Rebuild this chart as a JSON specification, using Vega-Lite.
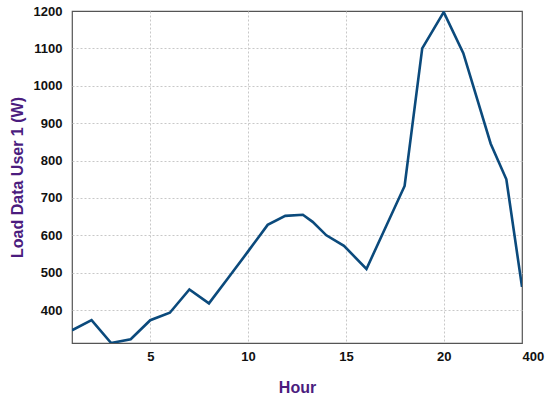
{
  "$schema": "https://vega.github.io/schema/vega-lite/v6.json",
  "width": 450,
  "height": 332,
  "autosize": {"type": "none"},
  "padding": {"left": 72, "top": 11, "right": 28, "bottom": 57},
  "background": "white",
  "config": {
    "font": "Liberation Sans",
    "view": {"stroke": "#555555", "strokeWidth": 1.2}
  },
  "data": {
    "values": [
      {"hour": 1, "load": 346},
      {"hour": 2, "load": 373},
      {"hour": 3, "load": 312},
      {"hour": 4, "load": 322},
      {"hour": 5, "load": 373},
      {"hour": 6, "load": 393},
      {"hour": 7, "load": 455},
      {"hour": 8, "load": 418},
      {"hour": 9, "load": 487},
      {"hour": 10, "load": 557},
      {"hour": 11, "load": 628},
      {"hour": 11.9, "load": 652},
      {"hour": 12.8, "load": 655},
      {"hour": 13.3, "load": 636},
      {"hour": 14, "load": 600},
      {"hour": 14.9, "load": 572},
      {"hour": 16.05, "load": 510},
      {"hour": 18, "load": 732},
      {"hour": 18.9, "load": 1100},
      {"hour": 20, "load": 1197},
      {"hour": 21, "load": 1087},
      {"hour": 22.4, "load": 845},
      {"hour": 23.2, "load": 750},
      {"hour": 24, "load": 462}
    ]
  },
  "mark": {"type": "line", "color": "#0B4A7C", "strokeWidth": 2.6, "clip": true},
  "encoding": {
    "x": {
      "field": "hour",
      "type": "quantitative",
      "scale": {"domain": [1, 24], "nice": false, "zero": false},
      "axis": {
        "title": "Hour",
        "values": [5, 10, 15, 20, 24],
        "labelExpr": "datum.value == 24 ? '400' : datum.label",
        "labelAlign": {"condition": {"test": "datum.value == 24", "value": "left"}, "value": "center"},
        "labelDy": {"condition": {"test": "datum.value == 24", "value": 3}, "value": 0},
        "labelBaseline": "top",
        "labelPadding": 7,
        "labelFontSize": 13,
        "labelFontWeight": "bold",
        "labelColor": "#111111",
        "labelFlush": false,
        "ticks": false,
        "domain": false,
        "grid": true,
        "gridColor": "#c8c8c8",
        "gridOpacity": {"condition": {"test": "datum.value == 24", "value": 0}, "value": 1},
        "gridDash": [2, 2],
        "gridWidth": 1,
        "titleFontSize": 16,
        "titleFontWeight": "bold",
        "titleColor": "#4B1C7E",
        "titlePadding": 16
      }
    },
    "y": {
      "field": "load",
      "type": "quantitative",
      "scale": {"domain": [312, 1200], "nice": false, "zero": false},
      "axis": {
        "title": "Load Data User 1 (W)",
        "values": [400, 500, 600, 700, 800, 900, 1000, 1100, 1200],
        "format": "d",
        "labelPadding": 10,
        "labelFontSize": 13,
        "labelFontWeight": "bold",
        "labelColor": "#111111",
        "labelFlush": false,
        "ticks": false,
        "domain": false,
        "grid": true,
        "gridColor": "#c8c8c8",
        "gridOpacity": {"condition": {"test": "datum.value == 1200", "value": 0}, "value": 1},
        "gridDash": [2, 2],
        "gridWidth": 1,
        "titleFontSize": 16,
        "titleFontWeight": "bold",
        "titleColor": "#4B1C7E",
        "titlePadding": 8
      }
    }
  }
}
